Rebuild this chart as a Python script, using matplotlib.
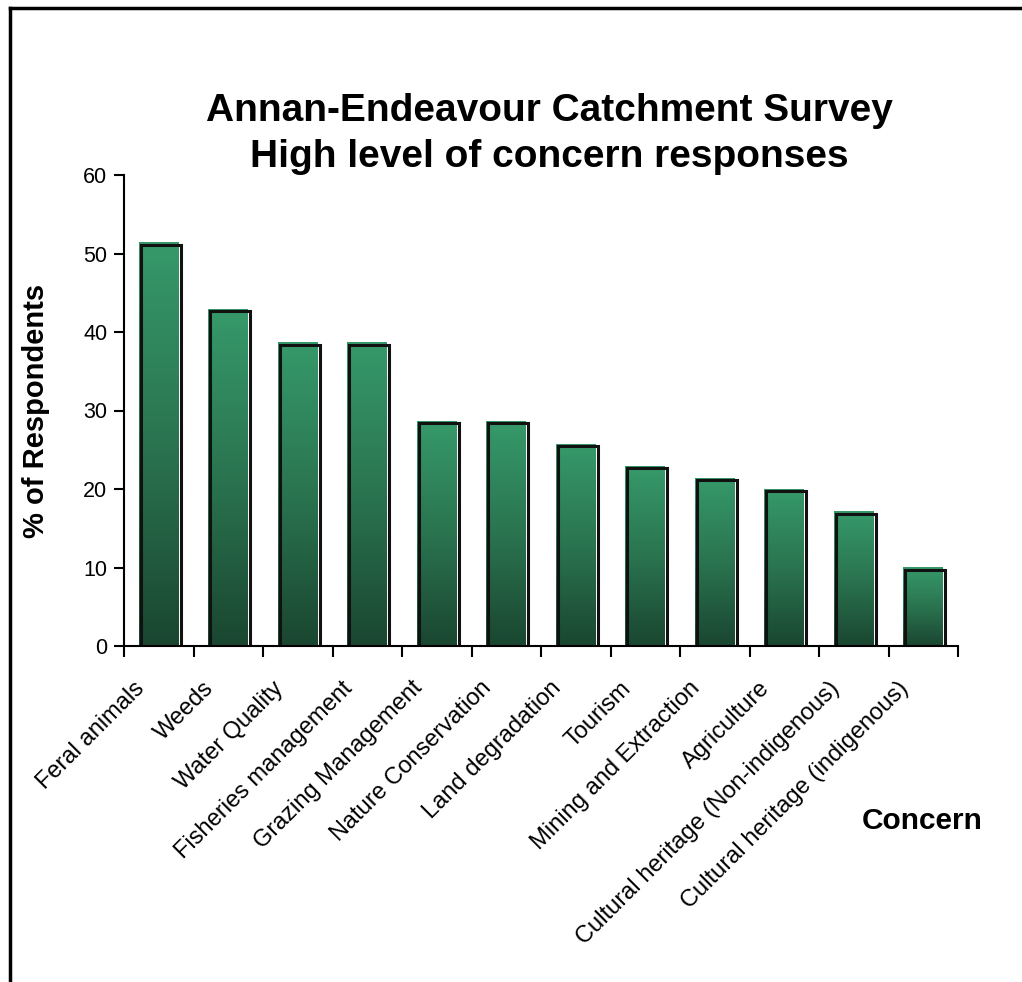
import numpy as np
import matplotlib.pyplot as plt
from matplotlib.patches import Rectangle
from matplotlib.lines import Line2D
from matplotlib.colors import LinearSegmentedColormap
import matplotlib.transforms as mtransforms

plt.rcParams['font.family'] = ['Liberation Sans', 'DejaVu Sans']

concerns = ["Feral animals", "Weeds", "Water Quality", "Fisheries management",
            "Grazing Management", "Nature Conservation", "Land degradation",
            "Tourism", "Mining and Extraction", "Agriculture",
            "Cultural heritage (Non-indigenous)", "Cultural heritage (indigenous)"]
percent = [51.4, 42.9, 38.6, 38.6, 28.6, 28.6, 25.7, 22.9, 21.4, 20.0, 17.1, 10.0]

fig = plt.figure(figsize=(10.22, 9.82), dpi=100)
ax = fig.add_axes([124/1022, 1 - 646/982, (958 - 124)/1022, (646 - 175)/982])

x = np.arange(len(concerns))
width = 0.57
grad = LinearSegmentedColormap.from_list("grn", ["#1a4630", "#2a7450", "#36996a"])
shade = np.linspace(0, 1, 256).reshape(-1, 1)

# outline sits a couple of pixels down-right of the fill
shift = mtransforms.offset_copy(ax.transData, fig=fig, x=2, y=-2, units='dots')

for xi, v in zip(x, percent):
    ax.imshow(shade, cmap=grad, origin='lower', aspect='auto',
              extent=(xi - width/2, xi + width/2, 0, v), zorder=2)
    ax.add_patch(Rectangle((xi - width/2, 0), width, v, fill=False,
                           edgecolor='#111111', linewidth=2.2, transform=shift, zorder=3))

ax.set_xlim(-0.5, len(concerns) - 0.5)
ax.set_ylim(0, 60)
ax.set_yticks(range(0, 61, 10))
ax.set_xticks(np.arange(len(concerns) + 1) - 0.5)
ax.set_xticklabels([])
ax.set_xticks(x, minor=True)
ax.set_xticklabels(concerns, minor=True, rotation=45, ha='right', va='center',
                   rotation_mode='anchor', fontsize=17)
ax.tick_params(axis='x', which='minor', length=0, pad=28)
ax.tick_params(axis='x', which='major', direction='out', length=8, width=1.5)
ax.tick_params(axis='y', direction='out', length=7, width=1.5, labelsize=15.5, pad=5)

# nudge the slanted labels left so they end just before the bar centre
nudge = mtransforms.ScaledTranslation(-18/100, 0, fig.dpi_scale_trans)
for lab in ax.get_xticklabels(minor=True):
    lab.set_transform(lab.get_transform() + nudge)

for s in ['top', 'right']:
    ax.spines[s].set_visible(False)
for s in ['left', 'bottom']:
    ax.spines[s].set_linewidth(1.5)
    ax.spines[s].set_zorder(4)

ax.set_ylabel("% of Respondents", fontsize=21, fontweight='bold', labelpad=24)

fig.text(549/1022, 1 - 134/982, "Annan-Endeavour Catchment Survey\nHigh level of concern responses",
         ha='center', va='center', fontsize=28, fontweight='bold', linespacing=1.35)
fig.text(862/1022, 1 - 829/982, "Concern", ha='left', va='baseline',
         fontsize=21.5, fontweight='bold')

# chart frame (left and top edges inside the canvas)
fig.add_artist(Line2D([9.5/1022, 9.5/1022], [0, 1 - 8/982], color='black', lw=2.5))
fig.add_artist(Line2D([9.5/1022, 1], [1 - 8/982, 1 - 8/982], color='black', lw=2.5))

fig.savefig("out.png", dpi=100)
